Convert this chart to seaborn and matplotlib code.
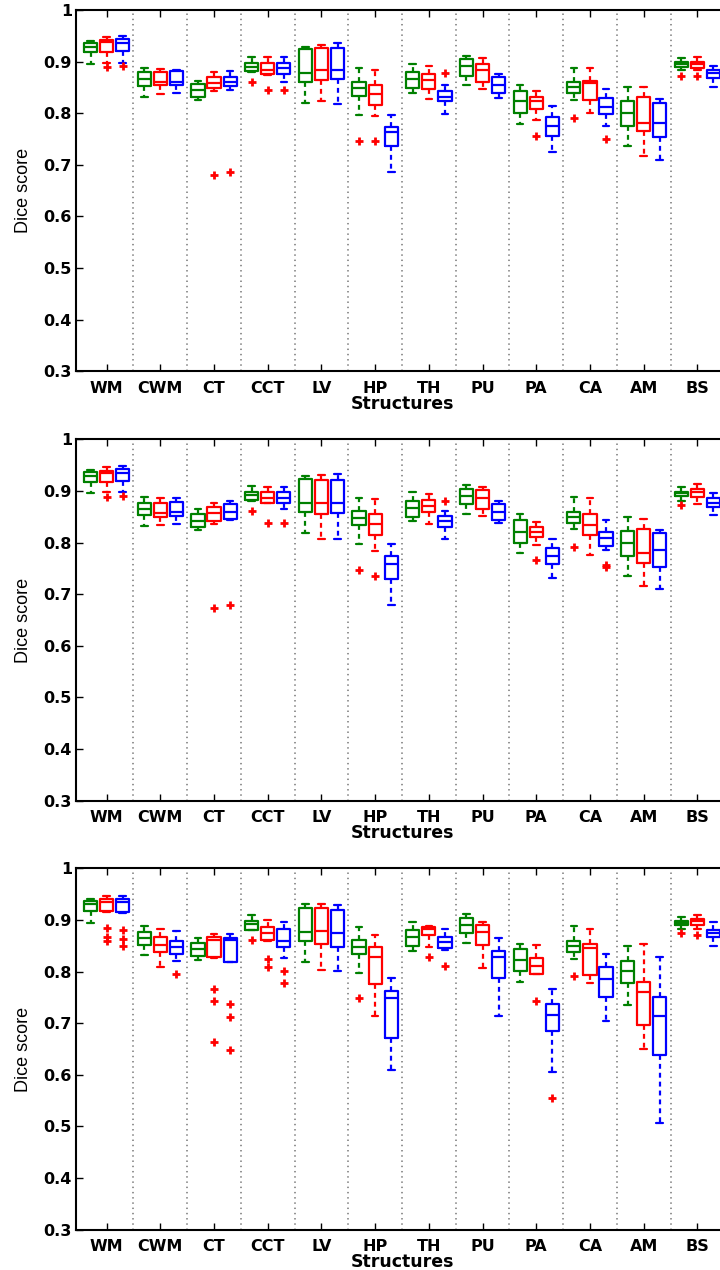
import numpy as np
import pandas as pd
import matplotlib
matplotlib.use("Agg")
import matplotlib.pyplot as plt
import seaborn as sns

structures = ["WM", "CWM", "CT", "CCT", "LV", "HP", "TH", "PU", "PA", "CA", "AM", "BS"]
methods = ["M1", "M2", "M3"]
colors = ["#008000", "#ff0000", "#0000ff"]
yticks = [0.3, 0.4, 0.5, 0.6, 0.7, 0.8, 0.9, 1.0]
ytick_labels = ["0.3", "0.4", "0.5", "0.6", "0.7", "0.8", "0.9", "1"]

# five-number summaries per structure: [method1, method2, method3]
# each entry: [lower whisker, q1, median, q3, upper whisker]
panel1_stats = [
    [[0.896, 0.918, 0.929, 0.936, 0.940], [0.897, 0.919, 0.938, 0.942, 0.948], [0.898, 0.921, 0.936, 0.943, 0.950]],
    [[0.832, 0.853, 0.866, 0.879, 0.888], [0.837, 0.854, 0.861, 0.879, 0.885], [0.839, 0.854, 0.861, 0.881, 0.883]],
    [[0.825, 0.831, 0.845, 0.856, 0.863], [0.844, 0.848, 0.858, 0.870, 0.879], [0.845, 0.852, 0.861, 0.871, 0.881]],
    [[0.879, 0.881, 0.890, 0.898, 0.908], [0.874, 0.876, 0.884, 0.897, 0.908], [0.861, 0.876, 0.887, 0.897, 0.908]],
    [[0.819, 0.860, 0.877, 0.924, 0.929], [0.823, 0.865, 0.884, 0.926, 0.932], [0.817, 0.866, 0.883, 0.926, 0.936]],
    [[0.797, 0.834, 0.848, 0.861, 0.887], [0.794, 0.815, 0.837, 0.855, 0.884], [0.686, 0.736, 0.763, 0.773, 0.797]],
    [[0.840, 0.848, 0.866, 0.880, 0.896], [0.828, 0.847, 0.865, 0.876, 0.892], [0.798, 0.823, 0.832, 0.844, 0.854]],
    [[0.854, 0.873, 0.892, 0.905, 0.911], [0.847, 0.861, 0.884, 0.895, 0.907], [0.830, 0.840, 0.855, 0.870, 0.876]],
    [[0.779, 0.800, 0.823, 0.843, 0.854], [0.787, 0.808, 0.823, 0.832, 0.843], [0.725, 0.755, 0.776, 0.792, 0.814]],
    [[0.826, 0.839, 0.850, 0.861, 0.887], [0.800, 0.826, 0.858, 0.863, 0.888], [0.776, 0.798, 0.812, 0.830, 0.847]],
    [[0.736, 0.776, 0.800, 0.823, 0.850], [0.717, 0.766, 0.781, 0.832, 0.850], [0.710, 0.753, 0.782, 0.819, 0.827]],
    [[0.883, 0.890, 0.895, 0.899, 0.907], [0.884, 0.887, 0.896, 0.900, 0.908], [0.850, 0.868, 0.877, 0.884, 0.892]],
]
panel1_outliers = [
    ("WM", "M2", 0.890), ("WM", "M3", 0.892),
    ("CT", "M2", 0.681), ("CT", "M3", 0.687),
    ("CCT", "M1", 0.861), ("CCT", "M2", 0.845), ("CCT", "M3", 0.845),
    ("HP", "M1", 0.747), ("HP", "M2", 0.747),
    ("TH", "M3", 0.877),
    ("PA", "M2", 0.756),
    ("CA", "M1", 0.790), ("CA", "M3", 0.750),
    ("BS", "M1", 0.872), ("BS", "M2", 0.872),
]

panel2_stats = [
    [[0.895, 0.918, 0.929, 0.936, 0.940], [0.898, 0.917, 0.934, 0.939, 0.946], [0.898, 0.920, 0.934, 0.942, 0.948]],
    [[0.832, 0.853, 0.865, 0.877, 0.889], [0.834, 0.850, 0.858, 0.877, 0.886], [0.836, 0.851, 0.860, 0.878, 0.886]],
    [[0.824, 0.831, 0.842, 0.855, 0.865], [0.836, 0.842, 0.857, 0.869, 0.876], [0.844, 0.845, 0.860, 0.874, 0.880]],
    [[0.881, 0.882, 0.892, 0.897, 0.909], [0.876, 0.877, 0.886, 0.898, 0.908], [0.865, 0.877, 0.887, 0.898, 0.908]],
    [[0.818, 0.860, 0.877, 0.923, 0.929], [0.806, 0.855, 0.876, 0.922, 0.931], [0.806, 0.858, 0.877, 0.922, 0.933]],
    [[0.797, 0.834, 0.848, 0.862, 0.887], [0.784, 0.815, 0.836, 0.855, 0.884], [0.678, 0.729, 0.758, 0.773, 0.797]],
    [[0.842, 0.850, 0.867, 0.880, 0.897], [0.836, 0.860, 0.871, 0.882, 0.894], [0.807, 0.831, 0.842, 0.851, 0.861]],
    [[0.855, 0.874, 0.890, 0.904, 0.911], [0.852, 0.865, 0.886, 0.902, 0.908], [0.837, 0.844, 0.860, 0.874, 0.880]],
    [[0.779, 0.800, 0.821, 0.844, 0.855], [0.795, 0.810, 0.821, 0.831, 0.840], [0.731, 0.758, 0.774, 0.790, 0.807]],
    [[0.826, 0.838, 0.850, 0.860, 0.889], [0.776, 0.815, 0.834, 0.855, 0.887], [0.786, 0.793, 0.808, 0.820, 0.844]],
    [[0.735, 0.774, 0.800, 0.822, 0.850], [0.715, 0.760, 0.779, 0.827, 0.846], [0.709, 0.753, 0.786, 0.818, 0.824]],
    [[0.881, 0.890, 0.895, 0.898, 0.908], [0.874, 0.889, 0.897, 0.903, 0.913], [0.853, 0.868, 0.877, 0.886, 0.895]],
]
panel2_outliers = [
    ("WM", "M2", 0.889), ("WM", "M3", 0.890),
    ("CT", "M2", 0.673), ("CT", "M3", 0.679),
    ("CCT", "M1", 0.862), ("CCT", "M2", 0.838), ("CCT", "M3", 0.838),
    ("HP", "M1", 0.747), ("HP", "M2", 0.735),
    ("TH", "M3", 0.881),
    ("PA", "M2", 0.767),
    ("CA", "M1", 0.791), ("CA", "M3", 0.756), ("CA", "M3", 0.752),
    ("BS", "M1", 0.873),
]

panel3_stats = [
    [[0.894, 0.917, 0.930, 0.936, 0.940], [0.915, 0.917, 0.935, 0.941, 0.946], [0.914, 0.916, 0.934, 0.940, 0.946]],
    [[0.832, 0.852, 0.864, 0.876, 0.888], [0.808, 0.838, 0.852, 0.867, 0.882], [0.820, 0.834, 0.848, 0.859, 0.878]],
    [[0.823, 0.830, 0.843, 0.856, 0.864], [0.827, 0.828, 0.862, 0.866, 0.872], [0.818, 0.819, 0.861, 0.864, 0.872]],
    [[0.880, 0.881, 0.893, 0.897, 0.909], [0.859, 0.862, 0.874, 0.887, 0.899], [0.827, 0.848, 0.859, 0.883, 0.895]],
    [[0.818, 0.859, 0.877, 0.924, 0.930], [0.803, 0.853, 0.879, 0.924, 0.930], [0.801, 0.848, 0.874, 0.920, 0.928]],
    [[0.798, 0.834, 0.848, 0.861, 0.887], [0.714, 0.776, 0.829, 0.848, 0.870], [0.610, 0.672, 0.748, 0.763, 0.788]],
    [[0.840, 0.849, 0.866, 0.880, 0.896], [0.848, 0.870, 0.883, 0.886, 0.888], [0.841, 0.845, 0.858, 0.867, 0.883]],
    [[0.856, 0.874, 0.891, 0.903, 0.911], [0.807, 0.851, 0.877, 0.890, 0.896], [0.714, 0.787, 0.829, 0.840, 0.865]],
    [[0.780, 0.801, 0.822, 0.843, 0.853], [0.795, 0.796, 0.810, 0.827, 0.851], [0.605, 0.684, 0.716, 0.737, 0.766]],
    [[0.825, 0.838, 0.849, 0.859, 0.888], [0.778, 0.793, 0.845, 0.854, 0.883], [0.704, 0.750, 0.785, 0.808, 0.834]],
    [[0.735, 0.777, 0.801, 0.821, 0.850], [0.649, 0.696, 0.761, 0.780, 0.854], [0.506, 0.638, 0.713, 0.750, 0.829]],
    [[0.883, 0.890, 0.894, 0.898, 0.906], [0.883, 0.890, 0.897, 0.901, 0.910], [0.850, 0.866, 0.875, 0.881, 0.896]],
]
panel3_outliers = [
    ("WM", "M2", 0.885), ("WM", "M2", 0.867), ("WM", "M2", 0.860),
    ("WM", "M3", 0.880), ("WM", "M3", 0.863), ("WM", "M3", 0.849),
    ("CWM", "M3", 0.795),
    ("CT", "M2", 0.767), ("CT", "M2", 0.743), ("CT", "M2", 0.664),
    ("CT", "M3", 0.737), ("CT", "M3", 0.711), ("CT", "M3", 0.647),
    ("CCT", "M1", 0.862), ("CCT", "M2", 0.824), ("CCT", "M2", 0.809),
    ("CCT", "M3", 0.801), ("CCT", "M3", 0.777),
    ("HP", "M1", 0.748),
    ("TH", "M2", 0.829), ("TH", "M3", 0.811),
    ("PA", "M2", 0.743), ("PA", "M3", 0.555),
    ("CA", "M1", 0.791),
    ("BS", "M1", 0.874), ("BS", "M2", 0.870),
]

panels = [(panel1_stats, panel1_outliers),
          (panel2_stats, panel2_outliers),
          (panel3_stats, panel3_outliers)]

sns.set_theme(style="white")
plt.rcParams["font.family"] = ["DejaVu Sans"]
plt.rcParams["text.color"] = "black"
plt.rcParams["axes.labelcolor"] = "black"
plt.rcParams["xtick.color"] = "black"
plt.rcParams["ytick.color"] = "black"

BOX_WIDTH = 0.9
fig = plt.figure(figsize=(7.2, 12.7), dpi=100)
left = 76 / 720
width = 652 / 720
tops_px = [10, 439.3, 868.3]
height_px = 361.3

for (stats, outs), top_px in zip(panels, tops_px):
    bottom = 1 - (top_px + height_px) / 1270
    ax = fig.add_axes([left, bottom, width, height_px / 1270])

    rows = []
    for si, s in enumerate(structures):
        for mi, m in enumerate(methods):
            for v in stats[si][mi]:
                rows.append({"structure": s, "method": m, "value": v})
    df = pd.DataFrame(rows)

    sns.boxplot(data=df, x="structure", y="value", hue="method",
                order=structures, hue_order=methods, palette=colors,
                fill=False, whis=np.inf, width=BOX_WIDTH, gap=0.18,
                linewidth=1.6, legend=False, ax=ax,
                whiskerprops={"linestyle": (0, (2.2, 1.8))})

    odf = pd.DataFrame(outs, columns=["structure", "method", "value"])
    odf["pos"] = [structures.index(s) + (methods.index(m) - 1) * BOX_WIDTH / 3
                  for s, m in zip(odf["structure"], odf["method"])]
    sns.scatterplot(data=odf, x="pos", y="value", marker="+", color="#ff0000",
                    s=40, linewidth=2.0, legend=False, ax=ax, zorder=5)

    for k in range(len(structures) - 1):
        ax.axvline(k + 0.5, color="#8a8a8a", lw=1.3, linestyle=(0, (0.8, 2.1)), zorder=0)

    ax.set_xlim(-0.57, 11.57)
    ax.set_ylim(0.3, 1.0)
    ax.set_yticks(yticks)
    ax.set_yticklabels(ytick_labels, fontweight="bold", fontsize=11.5)
    ax.set_xticks(range(len(structures)))
    ax.set_xticklabels(structures, fontweight="bold", fontsize=11.5)
    ax.tick_params(axis="both", direction="in", top=True, right=True,
                   bottom=True, left=True, length=5, width=1.0, color="black",
                   labelcolor="black")
    ax.tick_params(axis="x", pad=7)
    ax.tick_params(axis="y", pad=3)
    for sp in ax.spines.values():
        sp.set_color("black")
        sp.set_linewidth(1.5)
    ax.set_xlabel("Structures", fontweight="bold", fontsize=12.5, labelpad=-1, color="black")
    ax.set_ylabel("Dice score", fontsize=13, family=["Liberation Sans", "DejaVu Sans"],
                  labelpad=8, color="black")

fig.savefig("out.png", dpi=100)
